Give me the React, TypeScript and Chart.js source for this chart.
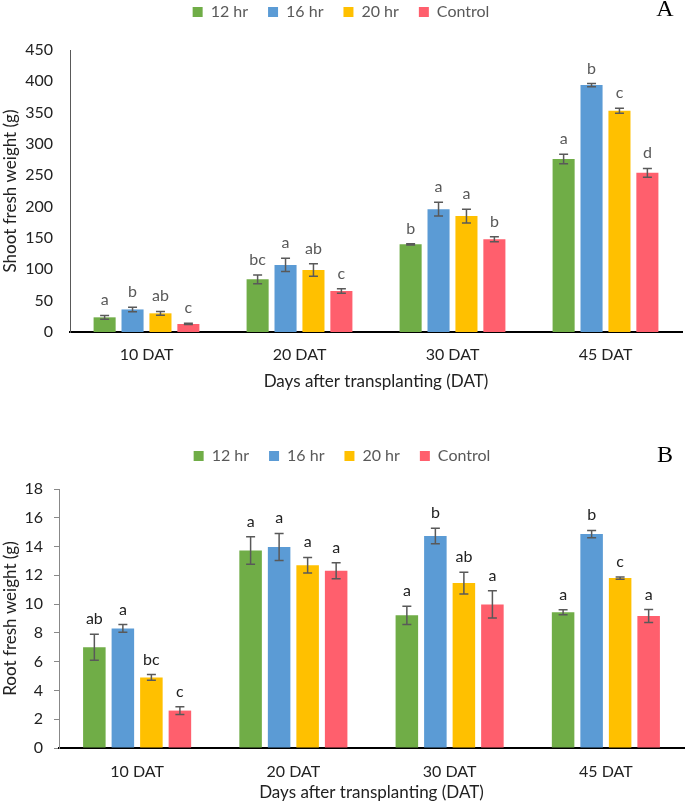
import React, { useEffect, useRef } from 'react';
import { Chart, registerables } from 'chart.js';

Chart.register(...registerables);

const FONT = 'Lato, "Open Sans", sans-serif';

const categories = ['10 DAT', '20 DAT', '30 DAT', '45 DAT'];
const seriesLabels = ['12 hr', '16 hr', '20 hr', 'Control'];
const seriesColors = ['#70AD47', '#5B9BD5', '#FFC000', '#FF5F6D'];

// Panel A: shoot fresh weight (g)
const shoot12 = [23.4, 84, 140, 276];
const shoot16 = [36, 107, 196, 394];
const shoot20 = [29.8, 99, 185, 353];
const shootCtrl = [12.8, 65.4, 148, 254];
const shootErr12 = [3, 7, 1, 7.5];
const shootErr16 = [3.5, 10.5, 11, 2.5];
const shootErr20 = [3, 10, 11, 4];
const shootErrCtrl = [1, 3.5, 4, 7];
const shootLet12 = ['a', 'bc', 'b', 'a'];
const shootLet16 = ['b', 'a', 'a', 'b'];
const shootLet20 = ['ab', 'ab', 'a', 'c'];
const shootLetCtrl = ['c', 'c', 'b', 'd'];

// Panel B: root fresh weight (g)
const root12 = [7.0, 13.73, 9.22, 9.43];
const root16 = [8.31, 13.97, 14.73, 14.87];
const root20 = [4.9, 12.7, 11.46, 11.81];
const rootCtrl = [2.6, 12.32, 9.98, 9.17];
const rootErr12 = [0.9, 0.96, 0.64, 0.17];
const rootErr16 = [0.27, 0.94, 0.54, 0.25];
const rootErr20 = [0.2, 0.54, 0.76, 0.08];
const rootErrCtrl = [0.27, 0.55, 0.94, 0.45];
const rootLet12 = ['ab', 'a', 'a', 'a'];
const rootLet16 = ['a', 'a', 'b', 'b'];
const rootLet20 = ['bc', 'a', 'ab', 'c'];
const rootLetCtrl = ['c', 'a', 'a', 'a'];

const xTitle = 'Days after transplanting (DAT)';

type PanelProps = {
  top: number;
  height: number;
  values: number[][];
  errors: number[][];
  letters: string[][];
  letterColor: string;
  yMax: number;
  yStep: number;
  yTitle: string;
  yWidth: number;
  legendExtra: number;
  xHeight: number;
  xTickPad: number;
  xTitlePad: number;
  rightPad: number;
  yTicks: boolean;
  yTickPad: number;
  yBorderColor: string;
  panel: string;
  panelY: number;
};

function Panel(p: PanelProps) {
  const ref = useRef<HTMLCanvasElement | null>(null);
  useEffect(() => {
    if (!ref.current) return;
    const errPlugin = {
      id: 'errLetters',
      beforeLayout(chart: any) {
        const lg = chart.legend;
        if (lg && !lg.__patched) {
          const orig = lg.fit;
          lg.fit = function () {
            orig.call(this);
            this.height += p.legendExtra;
          };
          lg.__patched = true;
        }
      },
      afterDatasetsDraw(chart: any) {
        const ctx = chart.ctx;
        const ys = chart.scales.y;
        chart.data.datasets.forEach((ds: any, i: number) => {
          const meta = chart.getDatasetMeta(i);
          meta.data.forEach((el: any, j: number) => {
            const v = ds.data[j];
            const e = p.errors[i][j];
            const x = el.x;
            const yt = ys.getPixelForValue(v + e);
            const yb = ys.getPixelForValue(v - e);
            ctx.save();
            ctx.strokeStyle = '#595959';
            ctx.lineWidth = 1.5;
            ctx.beginPath();
            ctx.moveTo(x, yt);
            ctx.lineTo(x, yb);
            ctx.moveTo(x - 4.5, yt);
            ctx.lineTo(x + 4.5, yt);
            ctx.moveTo(x - 4.5, yb);
            ctx.lineTo(x + 4.5, yb);
            ctx.stroke();
            ctx.fillStyle = p.letterColor;
            ctx.font = `16px ${FONT}`;
            ctx.textAlign = 'center';
            ctx.textBaseline = 'alphabetic';
            ctx.fillText(p.letters[i][j], x, yt - 10);
            ctx.restore();
          });
        });
      },
      afterDraw(chart: any) {
        const ctx = chart.ctx;
        ctx.save();
        ctx.fillStyle = '#000';
        ctx.font = '24px "Liberation Serif", "DejaVu Serif", serif';
        ctx.textAlign = 'center';
        ctx.textBaseline = 'middle';
        ctx.fillText(p.panel, 665, p.panelY);
        ctx.restore();
      },
    };
    const chart = new Chart(ref.current, {
      type: 'bar',
      data: {
        labels: categories,
        datasets: seriesLabels.map((lab, i) => ({
          label: lab,
          data: p.values[i],
          backgroundColor: seriesColors[i],
          borderWidth: 0,
          categoryPercentage: 0.73,
          barPercentage: 0.79,
        })),
      },
      options: {
        responsive: false,
        animation: false,
        devicePixelRatio: 1,
        layout: { padding: { left: 0, right: p.rightPad, top: 0, bottom: 0 } },
        plugins: {
          tooltip: { enabled: false },
          legend: {
            display: true,
            position: 'top',
            labels: {
              boxWidth: 10,
              boxHeight: 10,
              padding: 20,
              color: '#595959',
              font: { size: 16, family: FONT },
              generateLabels: (c: any) =>
                (Chart.defaults.plugins.legend.labels as any)
                  .generateLabels(c)
                  .map((l: any) => ({ ...l, lineWidth: 0, strokeStyle: 'rgba(0,0,0,0)' })),
            },
          },
        },
        scales: {
          x: {
            grid: { display: false, drawTicks: false },
            border: { display: true, color: '#000', width: 2 },
            ticks: { padding: p.xTickPad, color: '#222', font: { size: 16, family: FONT } },
            title: {
              display: true,
              text: xTitle,
              color: '#222',
              font: { size: 17, family: FONT },
              padding: { top: 0, bottom: p.xTitlePad },
            },
            afterFit: (s: any) => {
              s.height = p.xHeight;
            },
          },
          y: {
            min: 0,
            max: p.yMax,
            grid: {
              display: p.yTicks,
              drawOnChartArea: false,
              drawTicks: p.yTicks,
              tickLength: 5,
              color: '#888',
            },
            border: { display: true, color: p.yBorderColor, width: 1 },
            ticks: {
              stepSize: p.yStep,
              padding: p.yTickPad,
              color: '#222',
              font: { size: 16, family: FONT },
            },
            title: {
              display: true,
              text: p.yTitle,
              color: '#222',
              font: { size: 17, family: FONT },
              padding: 0,
            },
            afterFit: (s: any) => {
              s.width = p.yWidth;
            },
          },
        },
      },
      plugins: [errPlugin],
    } as any);
    return () => chart.destroy();
  }, []);
  return (
    <canvas
      ref={ref}
      width={685}
      height={p.height}
      style={{ position: 'absolute', left: 0, top: p.top, width: 685, height: p.height, display: 'block' }}
    />
  );
}

export default function App() {
  return (
    <div
      style={{
        position: 'absolute',
        left: 0,
        top: 0,
        width: 685,
        height: 808,
        overflow: 'hidden',
        background: '#fff',
      }}
    >
      <Panel
        top={-16}
        height={416}
        values={[shoot12, shoot16, shoot20, shootCtrl]}
        errors={[shootErr12, shootErr16, shootErr20, shootErrCtrl]}
        letters={[shootLet12, shootLet16, shootLet20, shootLetCtrl]}
        letterColor="#595959"
        yMax={450}
        yStep={50}
        yTitle="Shoot fresh weight (g)"
        yWidth={70}
        legendExtra={20}
        xHeight={68}
        xTickPad={13}
        xTitlePad={8}
        rightPad={3}
        yTicks={false}
        yTickPad={17}
        yBorderColor="#595959"
        panel="A"
        panelY={26}
      />
      <Panel
        top={428}
        height={380}
        values={[root12, root16, root20, rootCtrl]}
        errors={[rootErr12, rootErr16, rootErr20, rootErrCtrl]}
        letters={[rootLet12, rootLet16, rootLet20, rootLetCtrl]}
        letterColor="#222"
        yMax={18}
        yStep={2}
        yTitle="Root fresh weight (g)"
        yWidth={59}
        legendExtra={15}
        xHeight={60}
        xTickPad={14}
        xTitlePad={5}
        rightPad={1}
        yTicks={true}
        yTickPad={11}
        yBorderColor="#888"
        panel="B"
        panelY={28}
      />
    </div>
  );
}
